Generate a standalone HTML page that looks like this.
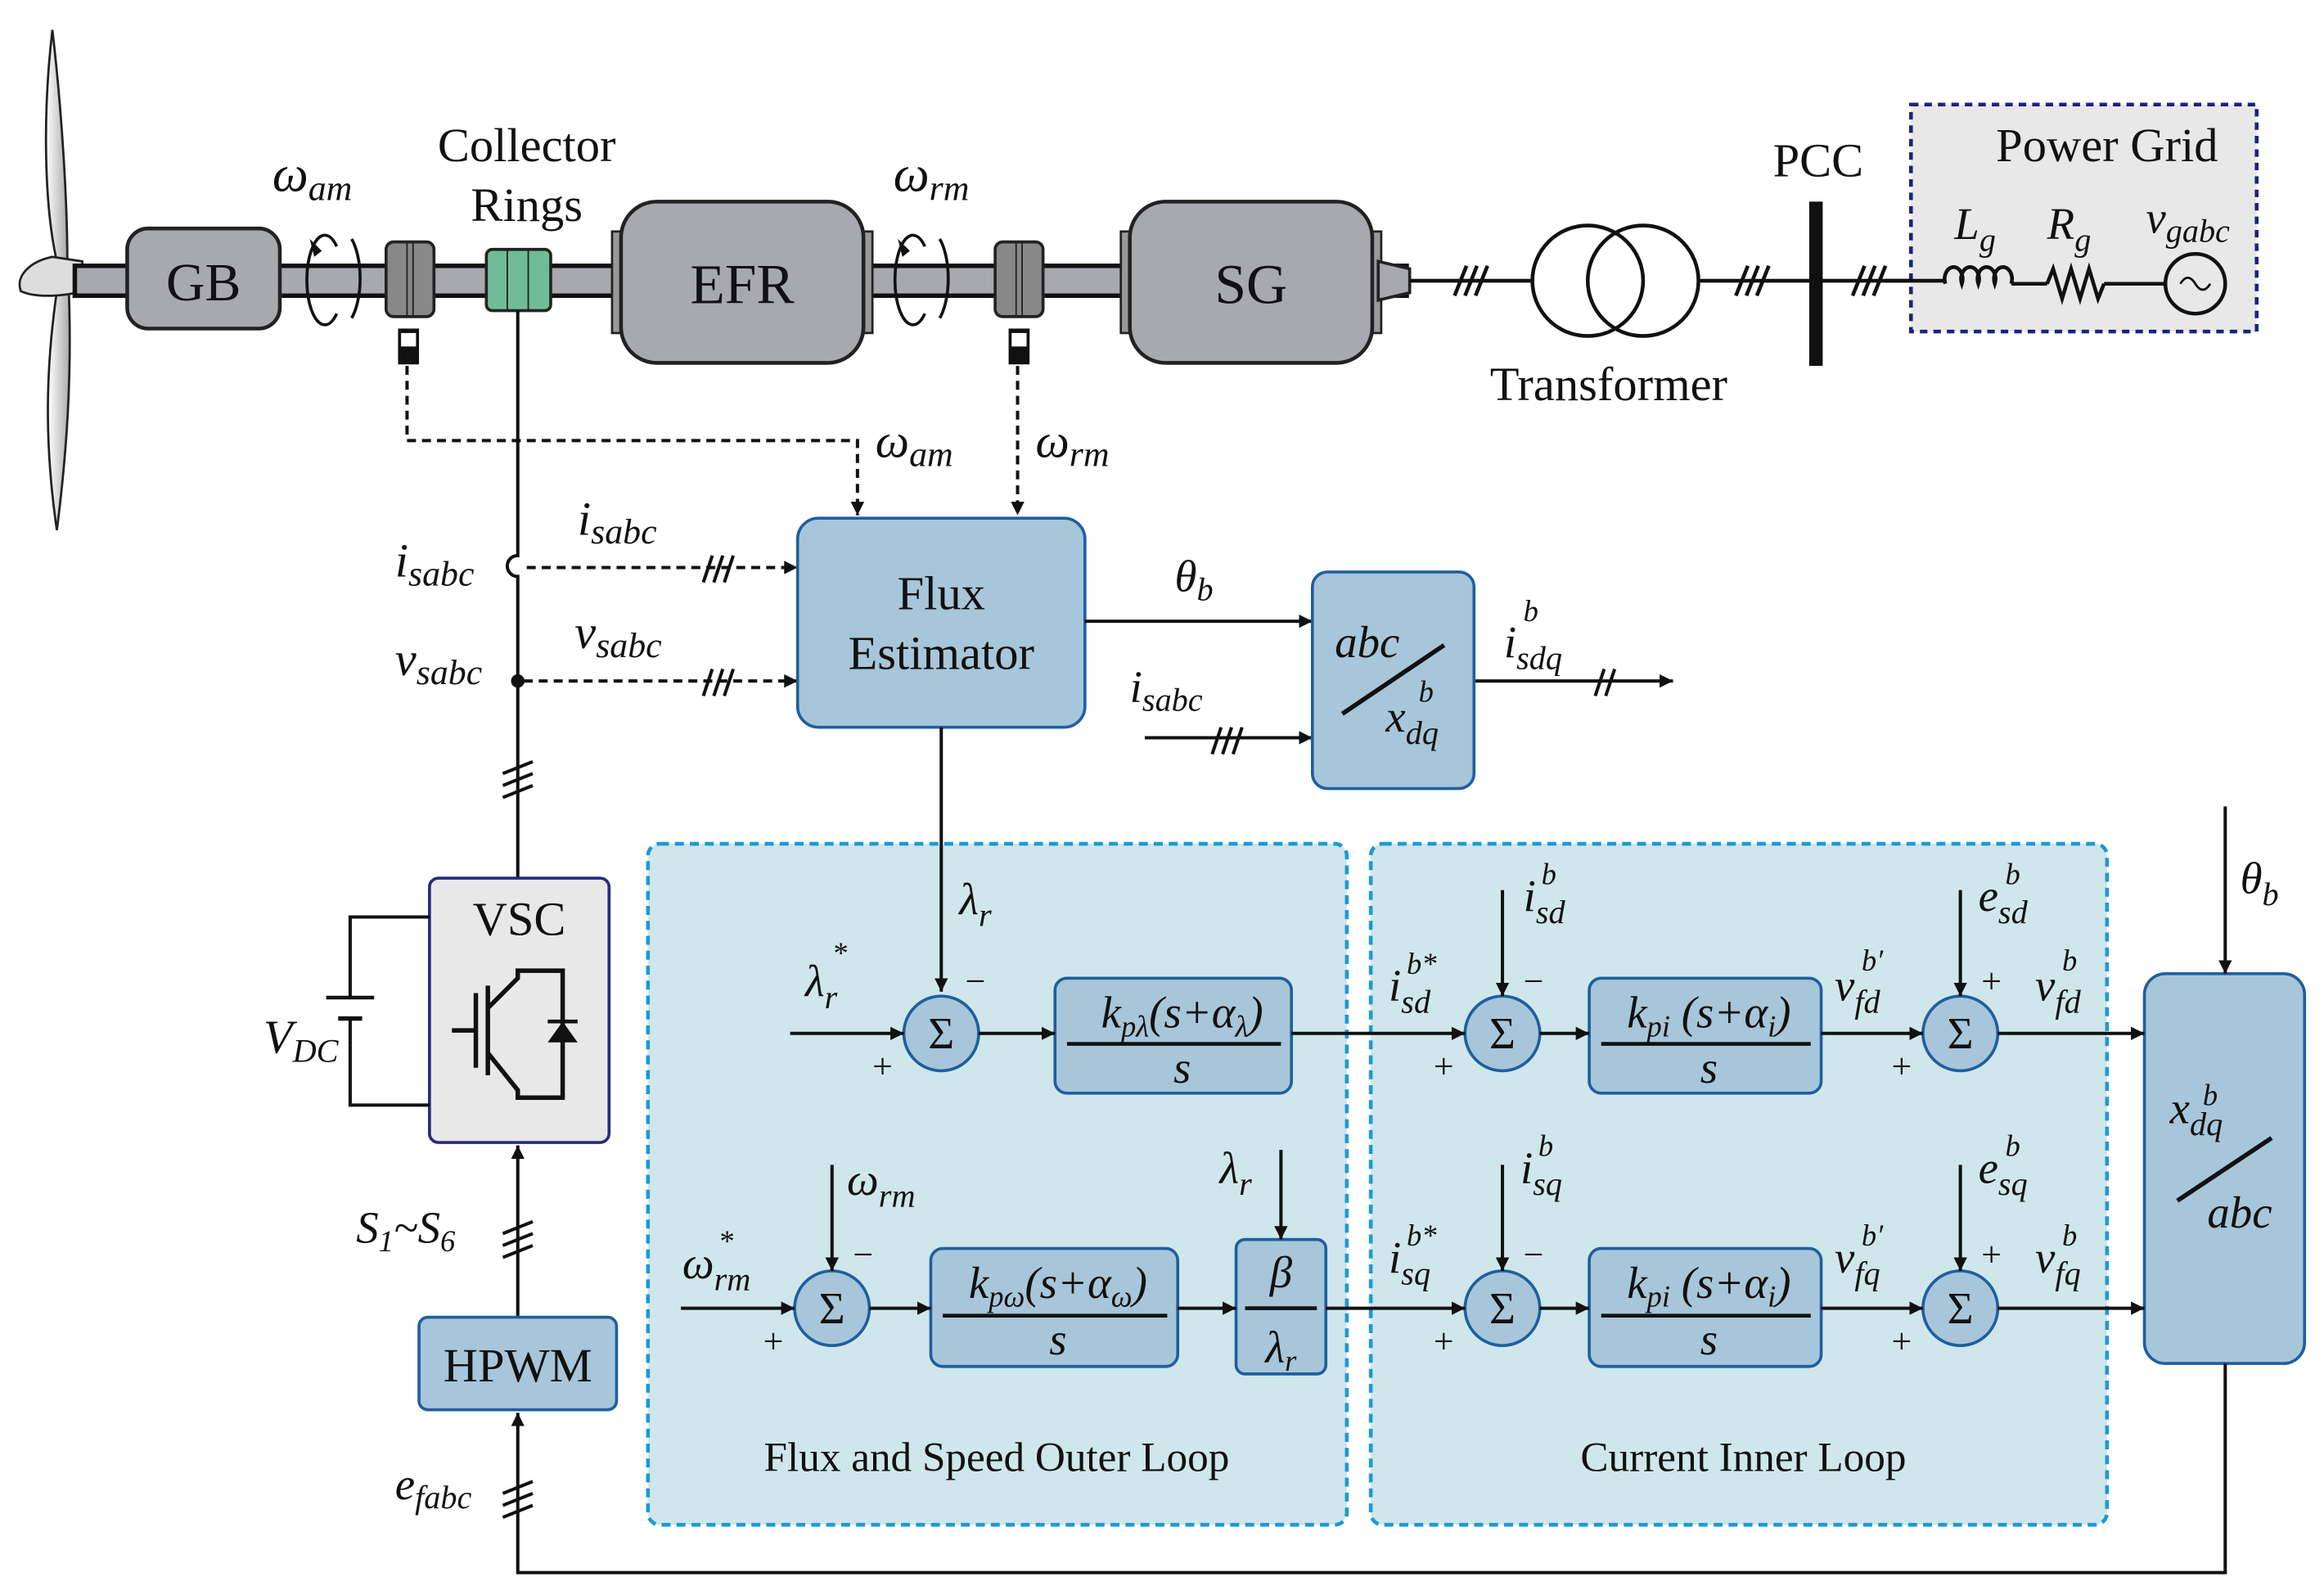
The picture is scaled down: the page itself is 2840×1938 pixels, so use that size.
<!DOCTYPE html>
<html><head><meta charset="utf-8"><style>
html,body{margin:0;padding:0;background:#fff}
svg{display:block}
text{font-family:"Liberation Serif",serif;fill:#111}
.m{font-style:italic}
</style></head><body>
<svg width="2840" height="1938" viewBox="0 0 1553 1062" preserveAspectRatio="none" xmlns="http://www.w3.org/2000/svg">
<defs>
<marker id="a" viewBox="0 0 10 10" refX="10" refY="5" markerWidth="9" markerHeight="9" markerUnits="userSpaceOnUse" orient="auto"><path d="M0,0L10,5L0,10z" fill="#111"/></marker>
<linearGradient id="bl" x1="0" x2="1"><stop offset="0" stop-color="#fff"/><stop offset="1" stop-color="#aaa"/></linearGradient>
</defs>
<!-- turbine -->
<path d="M35,20 C28,80 30,140 38,175 L45,175 C45,140 42,80 35,20Z" fill="url(#bl)" stroke="#222" stroke-width="1.5"/>
<path d="M38,195 C30,250 30,300 38,355 C45,300 48,250 46,195Z" fill="url(#bl)" stroke="#222" stroke-width="1.5"/>
<path d="M35,172 C20,175 10,185 14,195 C25,200 45,198 55,195 L55,175Z" fill="#ddd" stroke="#222" stroke-width="1.5"/>
<!-- shaft -->
<rect x="50" y="178" width="890" height="20" fill="#a8a9ad" stroke="#111" stroke-width="3"/>
<rect x="85" y="153" width="102" height="67" rx="14" fill="#a8a9ad" stroke="#222" stroke-width="2.5"/>
<text x="136" y="201" font-size="36" text-anchor="middle">GB</text>
<path d="M225,165 A12,30 0 1 0 225,210" fill="none" stroke="#111" stroke-width="2"/>
<path d="M235,160 A14,33 0 0 1 235,213" fill="none" stroke="#111" stroke-width="2"/>
<path d="M210,172 l-3,-12 l8,8z" fill="#111"/>
<text x="182" y="128" font-size="34" class="m">ω<tspan font-size="24" dy="6">am</tspan></text>
<rect x="258" y="162" width="32" height="50" rx="5" fill="#888" stroke="#222" stroke-width="2"/>
<line x1="272" y1="162" x2="272" y2="212" stroke="#222"/><line x1="276" y1="162" x2="276" y2="212" stroke="#222"/>
<rect x="266" y="220" width="14" height="24" fill="#111"/><rect x="268" y="223" width="10" height="9" fill="#fff"/>
<rect x="325" y="167" width="43" height="41" rx="4" fill="#6fbd98" stroke="#222" stroke-width="2"/>
<line x1="339" y1="167" x2="339" y2="208" stroke="#222"/><line x1="353" y1="167" x2="353" y2="208" stroke="#222"/>
<text x="352" y="108" font-size="32" text-anchor="middle">Collector</text>
<text x="352" y="148" font-size="32" text-anchor="middle">Rings</text>
<rect x="409" y="155" width="8" height="68" fill="#999" stroke="#222" stroke-width="1.5"/>
<rect x="575" y="155" width="8" height="68" fill="#999" stroke="#222" stroke-width="1.5"/>
<rect x="415" y="135" width="162" height="108" rx="24" fill="#a8a9ad" stroke="#222" stroke-width="2.5"/>
<text x="496" y="203" font-size="38" text-anchor="middle">EFR</text>
<path d="M618,165 A12,30 0 1 0 618,210" fill="none" stroke="#111" stroke-width="2"/>
<path d="M628,160 A14,33 0 0 1 628,213" fill="none" stroke="#111" stroke-width="2"/>
<path d="M603,172 l-3,-12 l8,8z" fill="#111"/>
<text x="597" y="128" font-size="34" class="m">ω<tspan font-size="24" dy="6">rm</tspan></text>
<rect x="665" y="162" width="32" height="50" rx="5" fill="#888" stroke="#222" stroke-width="2"/>
<line x1="679" y1="162" x2="679" y2="212" stroke="#222"/><line x1="683" y1="162" x2="683" y2="212" stroke="#222"/>
<rect x="674" y="220" width="14" height="24" fill="#111"/><rect x="676" y="223" width="10" height="9" fill="#fff"/>
<rect x="749" y="155" width="8" height="68" fill="#999" stroke="#222" stroke-width="1.5"/>
<rect x="915" y="155" width="8" height="68" fill="#999" stroke="#222" stroke-width="1.5"/>
<rect x="755" y="135" width="162" height="108" rx="24" fill="#a8a9ad" stroke="#222" stroke-width="2.5"/>
<text x="836" y="203" font-size="38" text-anchor="middle">SG</text>
<path d="M921,175 L942,180 L942,196 L921,201Z" fill="#a8a9ad" stroke="#222" stroke-width="2"/>
<!-- grid side -->
<g stroke="#111" stroke-width="2.5" fill="none">
<line x1="942" y1="188" x2="1024" y2="188"/>
<line x1="1135" y1="188" x2="1300" y2="188"/>
<circle cx="1061" cy="188" r="37"/><circle cx="1098" cy="188" r="37"/>
<path d="M972,198 l8,-20 M979,198 l8,-20 M986,198 l8,-20"/>
<path d="M1160,198 l8,-20 M1167,198 l8,-20 M1174,198 l8,-20"/>
<path d="M1238,198 l8,-20 M1245,198 l8,-20 M1252,198 l8,-20"/>
</g>
<rect x="1209" y="135" width="9" height="110" fill="#111"/>
<text x="1215" y="118" font-size="32" text-anchor="middle">PCC</text>
<text x="1075" y="268" font-size="32" text-anchor="middle">Transformer</text>
<rect x="1277" y="70" width="231" height="152" fill="#e8e8e8" stroke="#1a237e" stroke-width="2.5" stroke-dasharray="5,4"/>
<text x="1408" y="108" font-size="32" text-anchor="middle">Power Grid</text>
<g stroke="#111" stroke-width="2.5" fill="none">
<line x1="1260" y1="188" x2="1300" y2="188"/>
<path d="M1300,190 a6,8 0 1 1 11,0 a6,8 0 1 1 11,0 a6,8 0 1 1 11,0 a6,8 0 1 1 11,0"/>
<line x1="1344" y1="190" x2="1368" y2="190"/>
<path d="M1368,190 l4,-10 l6,20 l6,-20 l6,20 l6,-20 l6,20 l4,-10"/>
<line x1="1406" y1="190" x2="1447" y2="190"/>
<circle cx="1467" cy="190" r="20"/>
<path d="M1457,190 q5,-8 10,0 q5,8 10,0" stroke-width="1.5"/>
</g>
<text x="1306" y="160" font-size="30" class="m">L<tspan font-size="22" dy="8">g</tspan></text>
<text x="1368" y="160" font-size="30" class="m">R<tspan font-size="22" dy="8">g</tspan></text>
<text x="1434" y="156" font-size="30" class="m">v<tspan font-size="22" dy="6">gabc</tspan></text>
<!-- dashed sensors -->
<g stroke="#111" stroke-width="2.2" fill="none" stroke-dasharray="6,4">
<path d="M272,245 V295 H573 V345" marker-end="url(#a)"/>
<path d="M680,245 V345" marker-end="url(#a)"/>
<path d="M352,380 H533" marker-end="url(#a)"/>
<path d="M350,456 H533" marker-end="url(#a)"/>
</g>
<text x="585" y="306" font-size="32" class="m">ω<tspan font-size="24" dy="6">am</tspan></text>
<text x="692" y="306" font-size="32" class="m">ω<tspan font-size="24" dy="6">rm</tspan></text>
<!-- main vertical -->
<g stroke="#111" stroke-width="2.2" fill="none">
<path d="M346,208 V372 A7,7 0 0 0 346,386 V588"/>
<path d="M470,390 l6,-18 M477,390 l6,-18 M484,390 l6,-18"/>
<path d="M470,466 l6,-18 M477,466 l6,-18 M484,466 l6,-18"/>
<path d="M336,518 l20,-8 M336,526 l20,-8 M336,534 l20,-8"/>
</g>
<circle cx="346" cy="456" r="4.5" fill="#111"/>
<text x="264" y="386" font-size="32" class="m">i<tspan font-size="24" dy="6">sabc</tspan></text>
<text x="386" y="358" font-size="32" class="m">i<tspan font-size="24" dy="6">sabc</tspan></text>
<text x="264" y="452" font-size="32" class="m">v<tspan font-size="24" dy="6">sabc</tspan></text>
<text x="384" y="434" font-size="32" class="m">v<tspan font-size="24" dy="6">sabc</tspan></text>
<!-- flux estimator -->
<rect x="533" y="347" width="192" height="140" rx="14" fill="#a7c6d9" stroke="#1f5fa0" stroke-width="2"/>
<text x="629" y="408" font-size="32" text-anchor="middle">Flux</text>
<text x="629" y="448" font-size="32" text-anchor="middle">Estimator</text>
<g stroke="#111" stroke-width="2.2" fill="none">
<path d="M725,416 H877" marker-end="url(#a)"/>
<path d="M765,494 H877" marker-end="url(#a)"/>
<path d="M810,505 l6,-18 M817,505 l6,-18 M824,505 l6,-18"/>
<path d="M985,456 H1118" marker-end="url(#a)"/>
<path d="M1066,466 l6,-18 M1073,466 l6,-18"/>
</g>
<text x="785" y="396" font-size="30" class="m">θ<tspan font-size="22" dy="6">b</tspan></text>
<text x="755" y="470" font-size="30" class="m">i<tspan font-size="22" dy="6">sabc</tspan></text>
<rect x="877" y="383" width="108" height="145" rx="10" fill="#a7c6d9" stroke="#1f5fa0" stroke-width="2"/>
<text x="892" y="440" font-size="30" class="m">abc</text>
<line x1="897" y1="478" x2="965" y2="432" stroke="#111" stroke-width="3"/>
<text x="926" y="490" font-size="30" class="m">x<tspan font-size="22" dy="8">dq</tspan></text>
<text x="948" y="470" font-size="20" class="m">b</text>
<text x="1005" y="440" font-size="30" class="m">i<tspan font-size="22" dy="8">sdq</tspan></text>
<text x="1018" y="416" font-size="20" class="m">b</text>
<!-- loop boxes -->
<rect x="433" y="565" width="467" height="456" rx="8" fill="#cfe7ea" stroke="#1a9ad8" stroke-width="2.5" stroke-dasharray="6,4"/>
<rect x="916" y="565" width="492" height="456" rx="8" fill="#cfe7ea" stroke="#1a9ad8" stroke-width="2.5" stroke-dasharray="6,4"/>
<path d="M629,487 V664" stroke="#111" stroke-width="2.2" fill="none" marker-end="url(#a)"/>
<text x="666" y="985" font-size="28" text-anchor="middle">Flux and Speed Outer Loop</text>
<text x="1165" y="985" font-size="28" text-anchor="middle">Current Inner Loop</text>
<!-- sums -->
<g fill="#a7c6d9" stroke="#1f5fa0" stroke-width="2">
<circle cx="629" cy="692" r="25"/><circle cx="556" cy="876" r="25"/>
<circle cx="1004" cy="692" r="25"/><circle cx="1310" cy="692" r="25"/>
<circle cx="1004" cy="876" r="25"/><circle cx="1310" cy="876" r="25"/>
<rect x="705" y="655" width="158" height="77" rx="8"/>
<rect x="622" y="836" width="165" height="79" rx="8"/>
<rect x="826" y="830" width="60" height="90" rx="6"/>
<rect x="1062" y="655" width="155" height="77" rx="8"/>
<rect x="1062" y="836" width="155" height="79" rx="8"/>
<rect x="1433" y="652" width="107" height="261" rx="14"/>
</g>
<g font-size="30" text-anchor="middle">
<text x="629" y="702">Σ</text><text x="556" y="886">Σ</text>
<text x="1004" y="702">Σ</text><text x="1310" y="702">Σ</text>
<text x="1004" y="886">Σ</text><text x="1310" y="886">Σ</text>
</g>
<g stroke="#111" stroke-width="2.2" fill="none">
<path d="M528,692 H604" marker-end="url(#a)"/>
<path d="M654,692 H705" marker-end="url(#a)"/>
<path d="M863,692 H979" marker-end="url(#a)"/>
<path d="M1029,692 H1062" marker-end="url(#a)"/>
<path d="M1217,692 H1285" marker-end="url(#a)"/>
<path d="M1335,692 H1433" marker-end="url(#a)"/>
<path d="M455,876 H531" marker-end="url(#a)"/>
<path d="M581,876 H622" marker-end="url(#a)"/>
<path d="M787,876 H826" marker-end="url(#a)"/>
<path d="M886,876 H979" marker-end="url(#a)"/>
<path d="M1029,876 H1062" marker-end="url(#a)"/>
<path d="M1217,876 H1285" marker-end="url(#a)"/>
<path d="M1335,876 H1433" marker-end="url(#a)"/>
<path d="M556,780 V851" marker-end="url(#a)"/>
<path d="M856,770 V830" marker-end="url(#a)"/>
<path d="M1004,596 V667" marker-end="url(#a)"/>
<path d="M1310,596 V667" marker-end="url(#a)"/>
<path d="M1004,780 V851" marker-end="url(#a)"/>
<path d="M1310,780 V851" marker-end="url(#a)"/>
<path d="M1487,540 V652" marker-end="url(#a)"/>
<path d="M1487,913 V1053 H346 V946" marker-end="url(#a)"/>
<path d="M346,882 V767" marker-end="url(#a)"/>
<path d="M336,1000 l20,-8 M336,1008 l20,-8 M336,1016 l20,-8"/>
<path d="M336,826 l20,-8 M336,834 l20,-8 M336,842 l20,-8"/>
</g>
<!-- transfer functions -->
<g font-size="30" class="m" text-anchor="middle">
<text x="790" y="688">k<tspan font-size="20" dy="6">pλ</tspan><tspan dy="-6">(s+α</tspan><tspan font-size="20" dy="6">λ</tspan><tspan dy="-6">)</tspan></text>
<text x="790" y="725">s</text>
<text x="707" y="869">k<tspan font-size="20" dy="6">pω</tspan><tspan dy="-6">(s+α</tspan><tspan font-size="20" dy="6">ω</tspan><tspan dy="-6">)</tspan></text>
<text x="707" y="907">s</text>
<text x="856" y="862">β</text>
<text x="856" y="912">λ<tspan font-size="20" dy="6">r</tspan></text>
<text x="1142" y="688">k<tspan font-size="20" dy="6">pi</tspan><tspan dy="-6"> (s+α</tspan><tspan font-size="20" dy="6">i</tspan><tspan dy="-6">)</tspan></text>
<text x="1142" y="725">s</text>
<text x="1142" y="869">k<tspan font-size="20" dy="6">pi</tspan><tspan dy="-6"> (s+α</tspan><tspan font-size="20" dy="6">i</tspan><tspan dy="-6">)</tspan></text>
<text x="1142" y="907">s</text>
</g>
<g stroke="#111" stroke-width="2.5">
<line x1="713" y1="699" x2="856" y2="699"/><line x1="630" y1="881" x2="780" y2="881"/>
<line x1="832" y1="876" x2="880" y2="876"/><line x1="1070" y1="699" x2="1210" y2="699"/>
<line x1="1070" y1="881" x2="1210" y2="881"/>
</g>
<!-- labels -->
<g font-size="30" class="m">
<text x="641" y="612">λ<tspan font-size="22" dy="8">r</tspan></text>
<text x="538" y="667">λ<tspan font-size="22" dy="8">r</tspan></text><text x="556" y="645" font-size="20">*</text>
<text x="566" y="800">ω<tspan font-size="22" dy="8">rm</tspan></text>
<text x="456" y="856">ω<tspan font-size="22" dy="8">rm</tspan></text><text x="480" y="838" font-size="20">*</text>
<text x="815" y="792">λ<tspan font-size="22" dy="8">r</tspan></text>
<text x="1018" y="610">i<tspan font-size="22" dy="8">sd</tspan></text><text x="1030" y="592" font-size="20">b</text>
<text x="1016" y="792">i<tspan font-size="22" dy="8">sq</tspan></text><text x="1028" y="774" font-size="20">b</text>
<text x="928" y="670">i<tspan font-size="22" dy="8">sd</tspan></text><text x="940" y="652" font-size="20">b*</text>
<text x="928" y="852">i<tspan font-size="22" dy="8">sq</tspan></text><text x="940" y="834" font-size="20">b*</text>
<text x="1226" y="670">v<tspan font-size="22" dy="8">fd</tspan></text><text x="1244" y="650" font-size="20">b′</text>
<text x="1226" y="852">v<tspan font-size="22" dy="8">fq</tspan></text><text x="1244" y="834" font-size="20">b′</text>
<text x="1322" y="610">e<tspan font-size="22" dy="8">sd</tspan></text><text x="1340" y="592" font-size="20">b</text>
<text x="1322" y="792">e<tspan font-size="22" dy="8">sq</tspan></text><text x="1340" y="774" font-size="20">b</text>
<text x="1360" y="670">v<tspan font-size="22" dy="8">fd</tspan></text><text x="1378" y="650" font-size="20">b</text>
<text x="1360" y="852">v<tspan font-size="22" dy="8">fq</tspan></text><text x="1378" y="834" font-size="20">b</text>
<text x="1497" y="598">θ<tspan font-size="22" dy="8">b</tspan></text>
<text x="1450" y="752">x<tspan font-size="22" dy="8">dq</tspan></text><text x="1472" y="740" font-size="20">b</text>
<text x="1475" y="822">abc</text>
</g>
<line x1="1455" y1="804" x2="1518" y2="762" stroke="#111" stroke-width="3"/>
<g font-size="24">
<text x="645" y="665">−</text><text x="583" y="722">+</text><text x="570" y="848">−</text><text x="510" y="906">+</text>
<text x="1018" y="665">−</text><text x="958" y="722">+</text><text x="1018" y="848">−</text><text x="958" y="906">+</text>
<text x="1324" y="665">+</text><text x="1264" y="722">+</text><text x="1324" y="848">+</text><text x="1264" y="906">+</text>
</g>
<!-- VSC -->
<rect x="287" y="588" width="120" height="177" rx="6" fill="#e8e8e8" stroke="#2a2a7a" stroke-width="2"/>
<text x="347" y="626" font-size="32" text-anchor="middle">VSC</text>
<g stroke="#111" stroke-width="3" fill="none">
<line x1="302" y1="690" x2="318" y2="690"/><line x1="318" y1="665" x2="318" y2="715"/>
<line x1="326" y1="660" x2="326" y2="720"/>
<path d="M326,675 L346,655 V650 H376 V735 H346 V730 L326,705"/>
</g>
<path d="M366,698 h20 l-10,-14z" fill="#111"/><line x1="366" y1="684" x2="386" y2="684" stroke="#111" stroke-width="2.5"/>
<path d="M234,668 V614 H287 M234,700 V740 H287" stroke="#111" stroke-width="2.2" fill="none"/>
<line x1="218" y1="668" x2="250" y2="668" stroke="#111" stroke-width="2.5"/>
<line x1="226" y1="682" x2="242" y2="682" stroke="#111" stroke-width="3"/>
<line x1="234" y1="682" x2="234" y2="700" stroke="#111" stroke-width="2.2"/>
<text x="176" y="705" font-size="32" class="m">V<tspan font-size="22" dy="6">DC</tspan></text>
<text x="238" y="832" font-size="30" class="m">S<tspan font-size="20" dy="6">1</tspan><tspan dy="-6">~S</tspan><tspan font-size="20" dy="6">6</tspan></text>
<rect x="280" y="882" width="132" height="62" rx="6" fill="#a7c6d9" stroke="#1f5fa0" stroke-width="2"/>
<text x="346" y="925" font-size="32" text-anchor="middle">HPWM</text>
<text x="264" y="1004" font-size="30" class="m">e<tspan font-size="22" dy="6">fabc</tspan></text>
</svg>
</body></html>
